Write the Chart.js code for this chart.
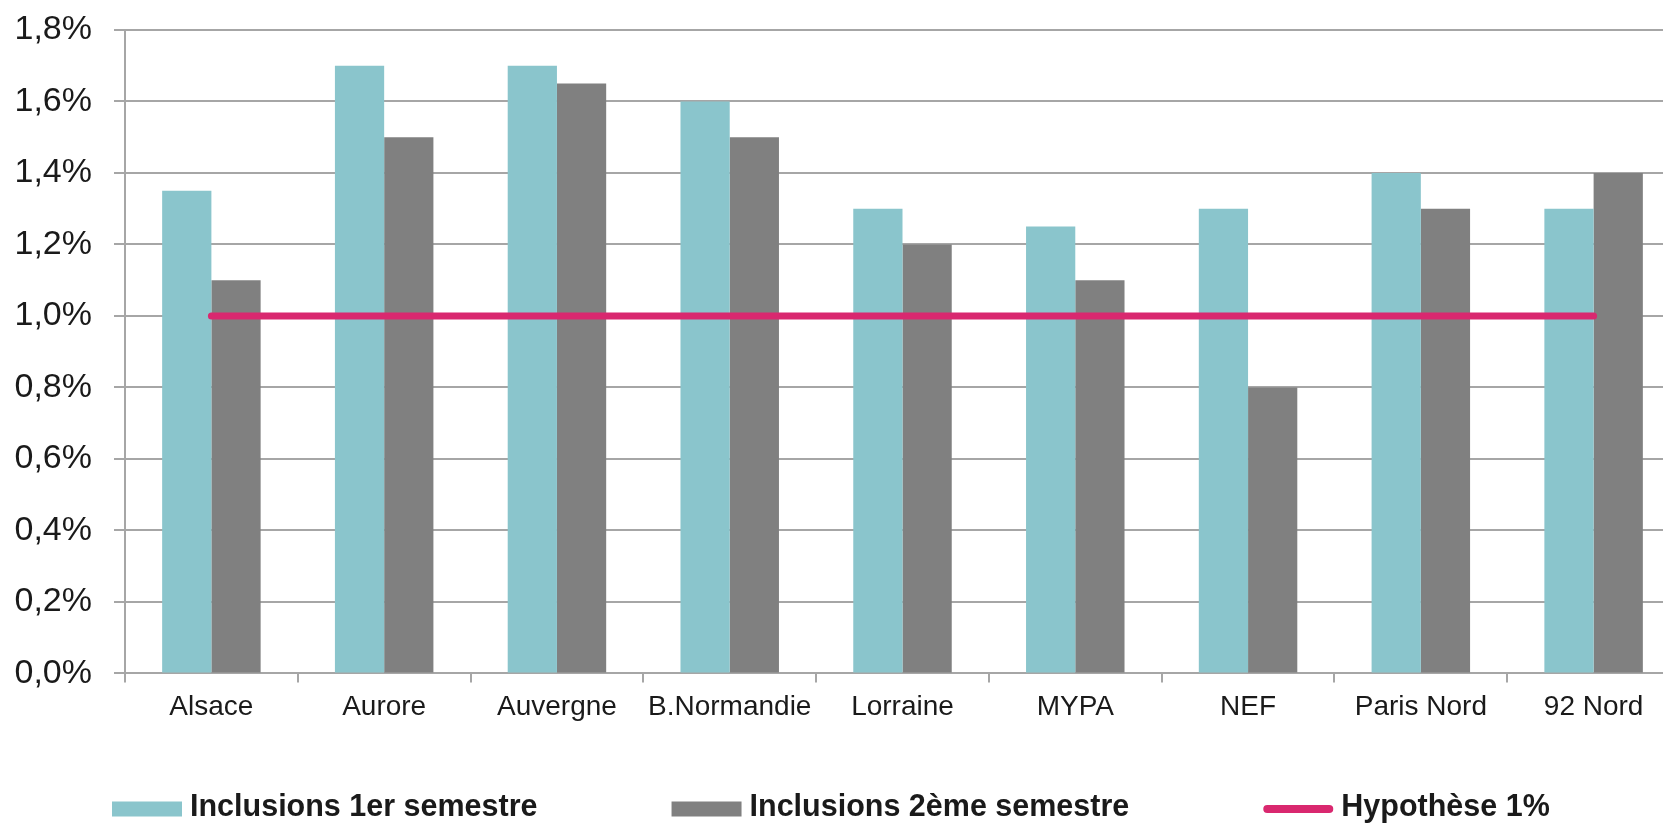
<!DOCTYPE html>
<html lang="fr">
<head>
<meta charset="utf-8">
<title>Inclusions par semestre</title>
<script src="https://cdn.jsdelivr.net/npm/chart.js@4.4.1/dist/chart.umd.min.js"></script>
<style>
  html, body { margin: 0; padding: 0; background: #fff; overflow: hidden; }
  #wrap { position: relative; width: 1680px; height: 823px; }
</style>
</head>
<body>
<div id="wrap"><canvas id="chart"></canvas></div>
<script>
const categories = ['Alsace', 'Aurore', 'Auvergne', 'B.Normandie', 'Lorraine', 'MYPA', 'NEF', 'Paris Nord', '92 Nord'];
const firstSemester = [1.35, 1.70, 1.70, 1.60, 1.30, 1.25, 1.30, 1.40, 1.30];
const secondSemester = [1.10, 1.50, 1.65, 1.50, 1.20, 1.10, 0.80, 1.30, 1.40];
const hypothesis = [1.0, 1.0, 1.0, 1.0, 1.0, 1.0, 1.0, 1.0, 1.0];
const yTicks = [0, 0.2, 0.4, 0.6, 0.8, 1.0, 1.2, 1.4, 1.6, 1.8];

const labels = ['Inclusions 1er semestre', 'Inclusions 2ème semestre', 'Hypothèse 1%'];
const colors = { teal: '#8ac5cc', gray: '#808080', pink: '#d9286f', grid: '#a6a6a6', text: '#1a1a1a' };

function formatPct(value) {
  return `${Number(value).toFixed(1).replace('.', ',')}%`;
}

// legend drawn by hand: the stock one can't do wide item gaps without a tall box
const bottomLegend = {
  id: 'bottomLegend',
  afterDraw(chart) {
    const ctx = chart.ctx;
    const boxW = 70;
    const boxH = 15;
    const textGap = 8;
    const itemGap = 134;
    const y = 808;
    let x = 112;
    ctx.save();
    ctx.font = 'bold 30.5px "Liberation Sans", Arial, sans-serif';
    ctx.textBaseline = 'middle';

    chart.data.datasets.forEach((ds) => {
      const isLine = ds.type === 'line';
      if (isLine) {
        ctx.strokeStyle = ds.borderColor;
        ctx.lineWidth = 8;
        ctx.lineCap = 'round';
        ctx.beginPath();
        ctx.moveTo(x + 4, y + 1);
        ctx.lineTo(x + boxW - 4, y + 1);
        ctx.stroke();
      } else {
        ctx.fillStyle = ds.backgroundColor;
        ctx.fillRect(x, y - boxH / 2 + 1, boxW, boxH);
      }
      ctx.fillStyle = colors.text;
      ctx.fillText(ds.label, x + boxW + textGap, y);
      x += boxW + textGap + ctx.measureText(ds.label).width + itemGap;
    });
    ctx.restore();
  }
};

new Chart(document.getElementById('chart'), {
  data: {
    labels: categories,
    datasets: [
      {
        type: 'bar',
        label: labels[0],
        data: firstSemester,
        backgroundColor: colors.teal,
        categoryPercentage: 0.57,
        barPercentage: 1,
        order: 1
      },
      {
        type: 'bar',
        label: labels[1],
        data: secondSemester,
        backgroundColor: colors.gray,
        categoryPercentage: 0.57,
        barPercentage: 1,
        order: 1
      },
      {
        type: 'line',
        label: labels[2],
        data: hypothesis,
        borderColor: colors.pink,
        backgroundColor: colors.pink,
        borderWidth: 7,
        borderCapStyle: 'round',
        pointRadius: 0,
        pointHoverRadius: 0,
        tension: 0,
        order: 0
      }
    ]
  },
  options: {
    responsive: true,
    maintainAspectRatio: false,
    animation: false,
    layout: { padding: { left: 15, right: 0, top: 30, bottom: 91 } },
    plugins: {
      legend: { display: false },
      tooltip: { enabled: false }
    },
    scales: {
      x: {
        offset: true,
        afterFit: (axis) => {
          axis.paddingLeft = 0;
          axis.paddingRight = 0;
        },
        grid: {
          display: true,
          drawOnChartArea: false,
          drawTicks: true,
          tickLength: 9,
          color: colors.grid,
          lineWidth: 2,
          offset: true
        },
        border: { display: true, color: colors.grid, width: 2 },
        ticks: {
          color: colors.text,
          padding: 8,
          maxRotation: 0,
          autoSkip: false,
          font: { family: '"Liberation Sans", Arial, sans-serif', size: 28 }
        }
      },
      y: {
        min: yTicks[0],
        max: yTicks[yTicks.length - 1],
        afterBuildTicks: (axis) => {
          axis.ticks = yTicks.map((v) => ({ value: v }));
        },
        afterFit: (axis) => {
          axis.paddingTop = 0;
          axis.paddingBottom = 0;
          axis.width = 110;
        },
        grid: {
          color: colors.grid,
          lineWidth: 2,
          tickLength: 11
        },
        border: { display: true, color: colors.grid, width: 2 },
        ticks: {
          color: colors.text,
          padding: 22,
          callback: (value) => formatPct(value),
          font: { family: '"Liberation Sans", Arial, sans-serif', size: 34 }
        }
      }
    }
  },
  plugins: [bottomLegend]
});
</script>
</body>
</html>
